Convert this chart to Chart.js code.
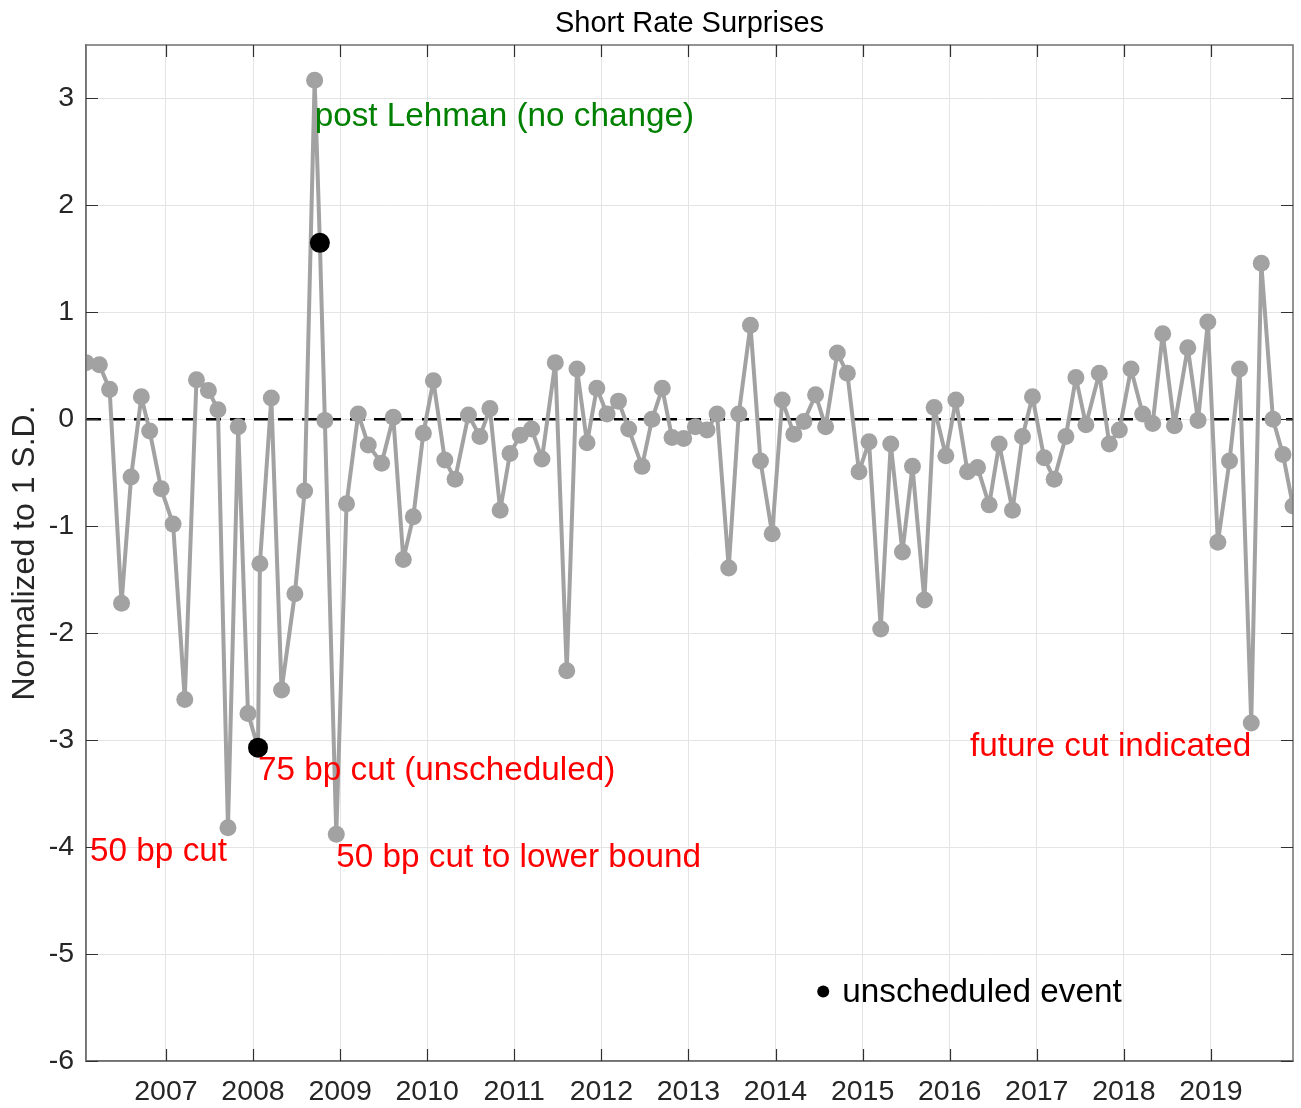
<!DOCTYPE html>
<html>
<head>
<meta charset="utf-8">
<script src="https://cdn.jsdelivr.net/npm/chart.js@4.4.1/dist/chart.umd.min.js"></script>
<style>
  body { margin: 0; background: #fff; }
  #wrap { width: 1301px; height: 1108px; position: relative; }
</style>
</head>
<body>
<div id="wrap"><canvas id="surpriseChart"></canvas></div>
<script>
// FOMC meeting dates (scheduled + the two unscheduled ones)
const meetingDates = [
  '2006-01-31','2006-03-28','2006-05-10','2006-06-29','2006-08-08','2006-09-20','2006-10-25','2006-12-12',
  '2007-01-31','2007-03-21','2007-05-09','2007-06-28','2007-08-07','2007-09-18','2007-10-31','2007-12-11',
  '2008-01-22','2008-01-30','2008-03-18','2008-04-30','2008-06-25','2008-08-05','2008-09-16','2008-10-08','2008-10-29','2008-12-16',
  '2009-01-28','2009-03-18','2009-04-29','2009-06-24','2009-08-12','2009-09-23','2009-11-04','2009-12-16',
  '2010-01-27','2010-03-16','2010-04-28','2010-06-23','2010-08-10','2010-09-21','2010-11-03','2010-12-14',
  '2011-01-26','2011-03-15','2011-04-27','2011-06-22','2011-08-09','2011-09-21','2011-11-02','2011-12-13',
  '2012-01-25','2012-03-13','2012-04-25','2012-06-20','2012-08-01','2012-09-13','2012-10-24','2012-12-12',
  '2013-01-30','2013-03-20','2013-05-01','2013-06-19','2013-07-31','2013-09-18','2013-10-30','2013-12-18',
  '2014-01-29','2014-03-19','2014-04-30','2014-06-18','2014-07-30','2014-09-17','2014-10-29','2014-12-17',
  '2015-01-28','2015-03-18','2015-04-29','2015-06-17','2015-07-29','2015-09-17','2015-10-28','2015-12-16',
  '2016-01-27','2016-03-16','2016-04-27','2016-06-15','2016-07-27','2016-09-21','2016-11-02','2016-12-14',
  '2017-02-01','2017-03-15','2017-05-03','2017-06-14','2017-07-26','2017-09-20','2017-11-01','2017-12-13',
  '2018-01-31','2018-03-21','2018-05-02','2018-06-13','2018-08-01','2018-09-26','2018-11-08','2018-12-19',
  '2019-01-30','2019-03-20','2019-05-01','2019-06-19','2019-07-31','2019-09-18','2019-10-30','2019-12-11'
];

// short rate surprise, normalized to 1 s.d.
const surprises = [
  0.53, 0.51, 0.28, -1.72, -0.54, 0.21, -0.11, -0.65,
  -0.98, -2.62, 0.37, 0.27, 0.09, -3.82, -0.07, -2.75,
  -3.07, -1.35, 0.20, -2.53, -1.63, -0.67, 3.17, 1.65, -0.01, -3.88,
  -0.79, 0.05, -0.24, -0.41, 0.02, -1.31, -0.91, -0.13,
  0.36, -0.38, -0.56, 0.04, -0.16, 0.10, -0.85, -0.32,
  -0.15, -0.09, -0.37, 0.53, -2.35, 0.47, -0.22, 0.29,
  0.05, 0.17, -0.09, -0.44, 0.00, 0.29, -0.17, -0.18,
  -0.07, -0.10, 0.05, -1.39, 0.05, 0.88, -0.39, -1.07,
  0.18, -0.14, -0.02, 0.23, -0.07, 0.62, 0.43, -0.49,
  -0.21, -1.96, -0.23, -1.24, -0.44, -1.69, 0.11, -0.34,
  0.18, -0.49, -0.45, -0.80, -0.23, -0.85, -0.16, 0.21,
  -0.36, -0.56, -0.16, 0.39, -0.05, 0.43, -0.23, -0.10,
  0.47, 0.05, -0.04, 0.80, -0.06, 0.67, -0.01, 0.91,
  -1.15, -0.39, 0.47, -2.84, 1.46, 0.00, -0.33, -0.81
];

const unscheduledDates = ['2008-01-22', '2008-10-08'];
const unscheduledValues = [-3.07, 1.65];

const yearTicks = [2007, 2008, 2009, 2010, 2011, 2012, 2013, 2014, 2015, 2016, 2017, 2018, 2019];
const valueTicks = [-6, -5, -4, -3, -2, -1, 0, 1, 2, 3];

// text notes, placed in data units
const notes = [
  { text: 'post Lehman (no change)', date: '2008-09-16', y: 2.83, color: '#008000', align: 'left' },
  { text: '75 bp cut (unscheduled)', date: '2008-01-22', y: -3.29, color: '#ff0000', align: 'left' },
  { text: '50 bp cut', date: '2006-02-17', y: -4.04, color: '#ff0000', align: 'left' },
  { text: '50 bp cut to lower bound', date: '2008-12-16', y: -4.10, color: '#ff0000', align: 'left' },
  { text: 'future cut indicated', date: '2019-06-19', y: -3.06, color: '#ff0000', align: 'right' }
];
const legendSpot = { text: 'unscheduled event', date: '2014-07-20', y: -5.36 };

// date string -> decimal year
function decYear(s) {
  const [y, m, d] = s.split('-').map(Number);
  const start = Date.UTC(y, 0, 1);
  const len = Date.UTC(y + 1, 0, 1) - start;
  return y + (Date.UTC(y, m - 1, d) - start) / len;
}

const seriesPts = meetingDates.map((d, i) => ({ x: decYear(d), y: surprises[i] }));
const unschedPts = unscheduledDates.map((d, i) => ({ x: decYear(d), y: unscheduledValues[i] }));
const xMin = decYear(meetingDates[0]);
const xMax = decYear(meetingDates[meetingDates.length - 1]);

const FONT = '"Liberation Sans", Arial, Helvetica, sans-serif';
const FRAME = '#707070';

const decorPlugin = {
  id: 'decor',
  afterDraw(chart) {
    const { ctx, chartArea: a, scales } = chart;
    const xs = scales.x, ys = scales.y;
    ctx.save();
    // box
    ctx.strokeStyle = FRAME;
    ctx.lineWidth = 1.5;
    ctx.strokeRect(a.left, a.top, a.right - a.left, a.bottom - a.top);
    // inward ticks
    ctx.strokeStyle = '#303030';
    ctx.lineWidth = 1.2;
    ctx.beginPath();
    yearTicks.forEach(v => {
      const px = Math.round(xs.getPixelForValue(v)) + 0.5;
      ctx.moveTo(px, a.bottom); ctx.lineTo(px, a.bottom - 12);
      ctx.moveTo(px, a.top); ctx.lineTo(px, a.top + 12);
    });
    valueTicks.forEach(v => {
      const py = Math.round(ys.getPixelForValue(v)) + 0.5;
      ctx.moveTo(a.left, py); ctx.lineTo(a.left + 12, py);
      ctx.moveTo(a.right, py); ctx.lineTo(a.right - 12, py);
    });
    ctx.stroke();

    // notes
    ctx.textBaseline = 'middle';
    ctx.font = '33.3px ' + FONT;
    notes.forEach(n => {
      ctx.fillStyle = n.color;
      ctx.textAlign = n.align;
      ctx.fillText(n.text, xs.getPixelForValue(decYear(n.date)), ys.getPixelForValue(n.y));
    });
    // legend-ish marker
    const lx = xs.getPixelForValue(decYear(legendSpot.date));
    const ly = ys.getPixelForValue(legendSpot.y);
    ctx.fillStyle = '#000';
    ctx.beginPath();
    ctx.arc(lx, ly - 1, 6, 0, Math.PI * 2);
    ctx.fill();
    ctx.textAlign = 'left';
    ctx.fillText(legendSpot.text, lx + 19, ly);

    // title
    ctx.fillStyle = '#000';
    ctx.textAlign = 'center';
    ctx.textBaseline = 'alphabetic';
    ctx.font = '29px ' + FONT;
    ctx.fillText('Short Rate Surprises', (a.left + a.right) / 2, 32);

    // y label
    ctx.fillStyle = '#262626';
    ctx.font = '32px ' + FONT;
    ctx.textAlign = 'center';
    ctx.textBaseline = 'middle';
    ctx.translate(25, (a.top + a.bottom) / 2);
    ctx.rotate(-Math.PI / 2);
    ctx.fillText('Normalized to 1 S.D.', 0, 0);
    ctx.restore();
  }
};

const ctx = document.getElementById('surpriseChart').getContext('2d');
const chart = new Chart(ctx, {
  type: 'line',
  data: {
    datasets: [
      {
        // zero line
        data: [{ x: xMin, y: 0 }, { x: xMax, y: 0 }],
        borderColor: '#000',
        borderWidth: 2.5,
        borderDash: [15, 9],
        pointRadius: 0,
        order: 3
      },
      {
        data: seriesPts,
        borderColor: '#a2a2a2',
        backgroundColor: '#a2a2a2',
        borderWidth: 4,
        borderJoinStyle: 'round',
        pointRadius: 8.5,
        pointBorderWidth: 0,
        tension: 0,
        order: 2
      },
      {
        data: unschedPts,
        showLine: false,
        backgroundColor: '#000',
        borderColor: '#000',
        pointRadius: 10,
        pointBorderWidth: 0,
        order: 1
      }
    ]
  },
  options: {
    responsive: true,
    maintainAspectRatio: false,
    animation: false,
    layout: { autoPadding: false, padding: { top: 45, right: 8, left: 0, bottom: 0 } },
    plugins: {
      legend: { display: false },
      tooltip: { enabled: false },
      title: { display: false }
    },
    scales: {
      x: {
        type: 'linear',
        min: xMin,
        max: xMax,
        afterBuildTicks: s => { s.ticks = yearTicks.map(v => ({ value: v })); },
        afterFit: s => { s.height = 47; s.paddingLeft = 0; s.paddingRight = 0; },
        grid: { color: '#e4e4e4', lineWidth: 1, drawTicks: false },
        border: { display: true, color: FRAME, width: 1.5 },
        ticks: {
          autoSkip: false,
          maxRotation: 0,
          padding: 14,
          color: '#262626',
          font: { family: FONT, size: 28.5 },
          callback: v => String(v)
        }
      },
      y: {
        min: -6,
        max: 3.5,
        afterBuildTicks: s => { s.ticks = valueTicks.map(v => ({ value: v })); },
        afterFit: s => { s.width = 86; s.paddingTop = 0; s.paddingBottom = 0; },
        grid: { color: '#e4e4e4', lineWidth: 1, drawTicks: false },
        border: { display: true, color: FRAME, width: 1.5 },
        ticks: {
          padding: 12,
          color: '#262626',
          font: { family: FONT, size: 28.5 },
          callback: v => String(v)
        }
      }
    }
  },
  plugins: [decorPlugin]
});
</script>
</body>
</html>
